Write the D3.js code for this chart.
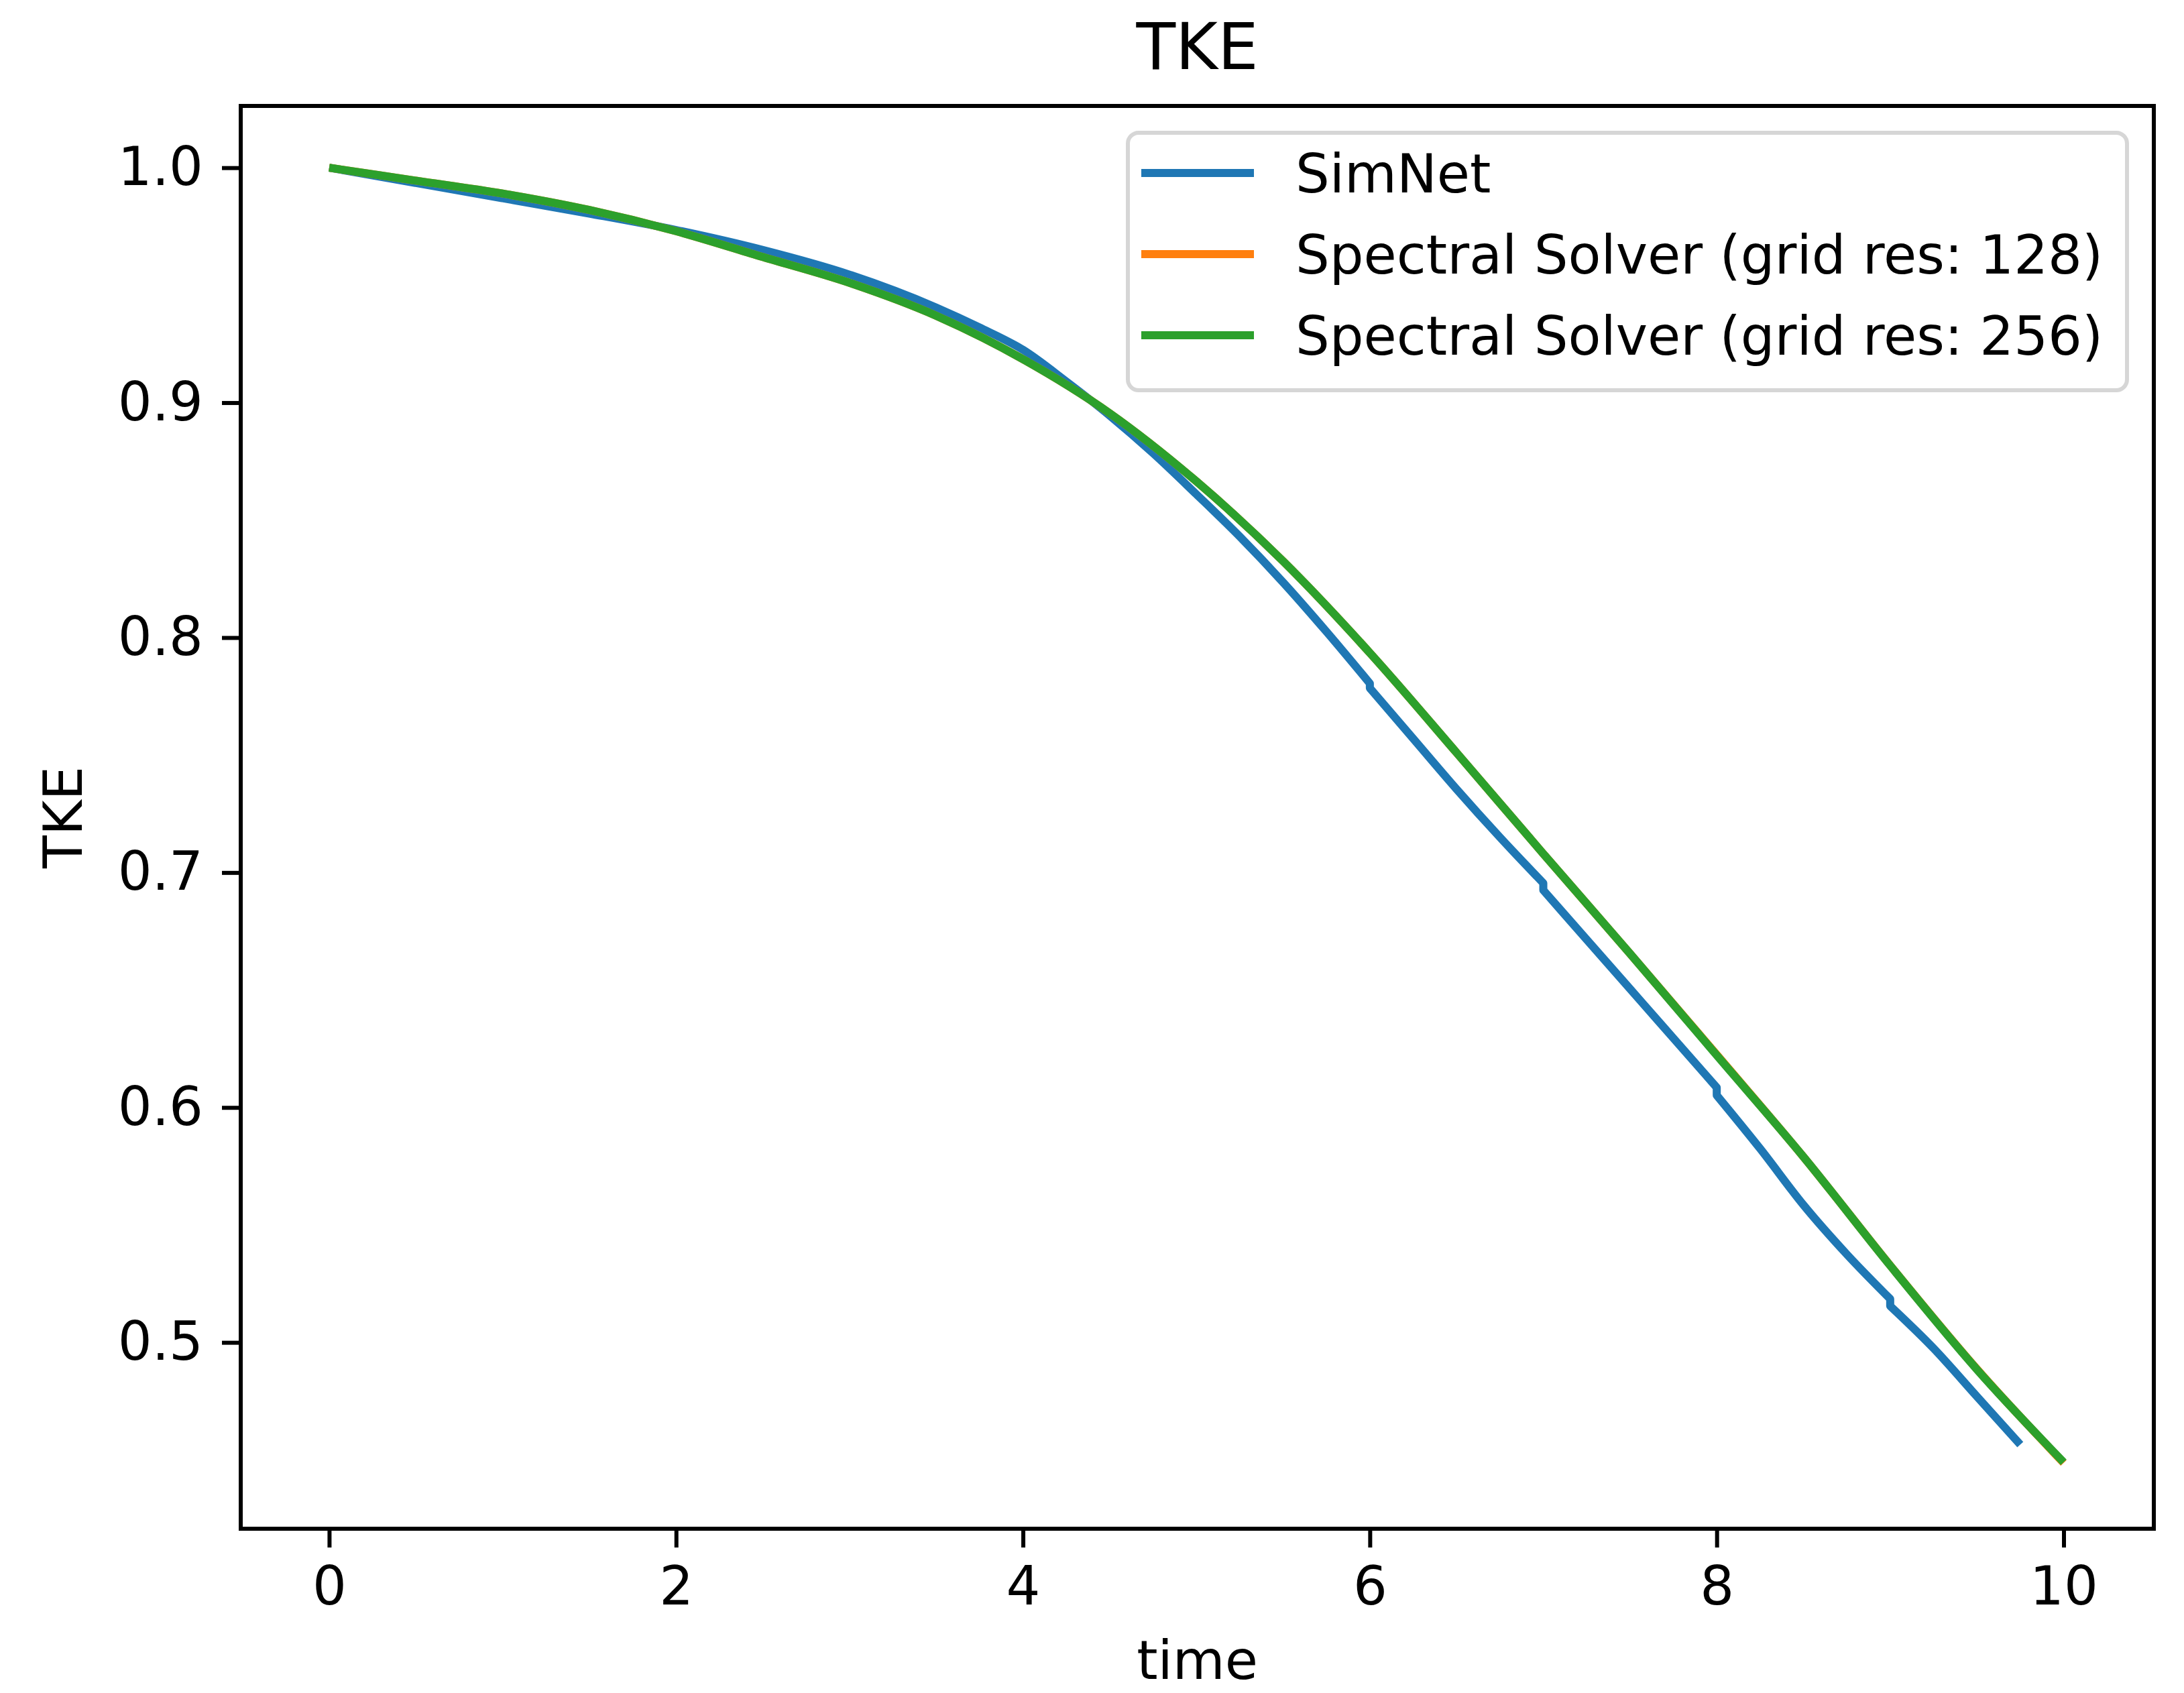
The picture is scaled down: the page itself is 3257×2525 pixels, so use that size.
<!DOCTYPE html>
<html lang="en">
<head>
    <meta charset="utf-8">
    <script src="https://d3js.org/d3.v7.min.js"></script>
    <style>
        body { margin: 0; background: #fff; }
        text { font-family: "DejaVu Sans", sans-serif; fill: #000; }
    </style>
</head>
<body>
    <div id="chart"></div>
    <script>
        // series names (legend order)
        var seriesNames = ["SimNet", "Spectral Solver (grid res: 128)", "Spectral Solver (grid res: 256)"];
        var seriesColors = ["#1f77b4", "#ff7f0e", "#2ca02c"];

        // SimNet: trained in time windows, small jumps at the window edges (repeated t)
        var simnetTime = [0, 0.5, 1, 1.5, 2, 2.5, 3, 3.5, 3.75, 4, 4.25, 4.5, 4.75, 5, 5.25, 5.5, 5.75, 6,
                          6, 6.25, 6.5, 6.75, 7, 7, 7.25, 7.5, 7.75, 8, 8, 8.25, 8.5, 8.75, 9, 9, 9.25, 9.5, 9.75];
        var simnetTke = [1.000, 0.9935, 0.987, 0.9805, 0.9735, 0.965, 0.9545, 0.9405, 0.932, 0.9225, 0.9090, 0.8945, 0.8785, 0.861, 0.843, 0.8235, 0.8025, 0.7805,
                         0.7785, 0.757, 0.7355, 0.7150, 0.6955, 0.6925, 0.6715, 0.6505, 0.6295, 0.6085, 0.6052, 0.5825, 0.5585, 0.5375, 0.5185, 0.5155, 0.4975, 0.4770, 0.4565];

        var spectralTime = [0, 0.5, 1, 1.5, 2, 2.5, 3, 3.5, 4, 4.5, 5, 5.5, 6, 6.5, 7, 7.5, 8, 8.5, 9, 9.5, 10];
        var spectral128 = [1.000, 0.9945, 0.989, 0.982, 0.973, 0.962, 0.951, 0.937, 0.9185, 0.8955, 0.8665, 0.8325, 0.7935, 0.751, 0.708, 0.6655, 0.6225, 0.579, 0.5328, 0.4887, 0.4487];
        var spectral256 = [1.000, 0.9945, 0.989, 0.982, 0.973, 0.962, 0.951, 0.937, 0.9185, 0.8955, 0.8665, 0.8325, 0.7935, 0.751, 0.708, 0.6655, 0.6222, 0.579, 0.5327, 0.4885, 0.449];

        var xTicks = [0, 2, 4, 6, 8, 10];
        var yTicks = [0.5, 0.6, 0.7, 0.8, 0.9, 1.0];

        var width = 3257;
        var height = 2525;
        // plot box (window.top is read-only, so no bare "top")
        var box = { left: 359, right: 3212, top: 158, bottom: 2280 };

        var data = [
            { name: seriesNames[0], color: seriesColors[0], values: simnetTime.map((t, i) => ({ t: t, v: simnetTke[i] })) },
            { name: seriesNames[1], color: seriesColors[1], values: spectralTime.map((t, i) => ({ t: t, v: spectral128[i] })) },
            { name: seriesNames[2], color: seriesColors[2], values: spectralTime.map((t, i) => ({ t: t, v: spectral256[i] })) }
        ];

        /* Scale */
        var xScale = d3.scaleLinear().domain([-0.51, 10.52]).range([box.left, box.right]);
        var yScale = d3.scaleLinear().domain([0.4207, 1.0263]).range([box.bottom, box.top]);

        var svg = d3.select("#chart").append("svg")
            .attr("width", width)
            .attr("height", height);

        /* Lines: smooth inside each time window, joined straight at the jumps */
        var line = d3.line()
            .curve(d3.curveMonotoneX)
            .x(d => xScale(d.t))
            .y(d => yScale(d.v));

        function windowed(values) {
            var segs = [[]];
            values.forEach(function(d, i) {
                if (i > 0 && d.t === values[i - 1].t) segs.push([]);
                segs[segs.length - 1].push(d);
            });
            return segs.map((s, i) => i === 0 ? line(s) : "L" + line(s).slice(1)).join("");
        }

        svg.append("g").selectAll("path")
            .data(data).enter()
            .append("path")
            .attr("d", d => windowed(d.values))
            .attr("fill", "none")
            .attr("stroke", d => d.color)
            .attr("stroke-width", 12)
            .attr("stroke-linejoin", "round");

        /* Axes */
        var xAxis = d3.axisBottom(xScale).tickValues(xTicks).tickSize(28).tickPadding(28).tickFormat(d3.format("d"));
        var yAxis = d3.axisLeft(yScale).tickValues(yTicks).tickSize(28).tickPadding(28).tickFormat(d3.format(".1f"));

        var gx = svg.append("g")
            .attr("transform", `translate(0, ${box.bottom})`)
            .call(xAxis);
        var gy = svg.append("g")
            .attr("transform", `translate(${box.left}, 0)`)
            .call(yAxis);

        [gx, gy].forEach(function(g) {
            g.select(".domain").remove();
            g.selectAll(".tick line").attr("stroke", "#000").attr("stroke-width", 6);
            g.selectAll(".tick text").attr("font-size", 80).attr("font-family", "DejaVu Sans").attr("fill", "#000");
        });

        /* spines */
        svg.append("rect")
            .attr("x", box.left).attr("y", box.top)
            .attr("width", box.right - box.left).attr("height", box.bottom - box.top)
            .attr("fill", "none")
            .attr("stroke", "#000")
            .attr("stroke-width", 6);

        /* Titles */
        svg.append("text")
            .attr("x", (box.left + box.right) / 2)
            .attr("y", 103)
            .attr("text-anchor", "middle")
            .attr("font-size", 96)
            .text("TKE");

        svg.append("text")
            .attr("x", (box.left + box.right) / 2)
            .attr("y", 2504)
            .attr("text-anchor", "middle")
            .attr("font-size", 80)
            .text("time");

        svg.append("text")
            .attr("transform", `translate(122, ${(box.top + box.bottom) / 2}) rotate(-90)`)
            .attr("text-anchor", "middle")
            .attr("font-size", 80)
            .text("TKE");

        /* Legend */
        var legend = svg.append("g");
        legend.append("rect")
            .attr("x", 1682).attr("y", 198)
            .attr("width", 3172 - 1682).attr("height", 582 - 198)
            .attr("rx", 16).attr("ry", 16)
            .attr("fill", "#fff").attr("fill-opacity", 0.8)
            .attr("stroke", "#cccccc").attr("stroke-opacity", 0.8)
            .attr("stroke-width", 6);

        var items = legend.selectAll(".item")
            .data(data).enter()
            .append("g")
            .attr("transform", (d, i) => `translate(0, ${258 + i * 121})`);

        items.append("line")
            .attr("x1", 1702).attr("x2", 1870)
            .attr("y1", 0).attr("y2", 0)
            .attr("stroke", d => d.color)
            .attr("stroke-width", 12);

        items.append("text")
            .attr("x", 1932)
            .attr("y", 29)
            .attr("font-size", 80)
            .text(d => d.name);
    </script>
</body>
</html>
